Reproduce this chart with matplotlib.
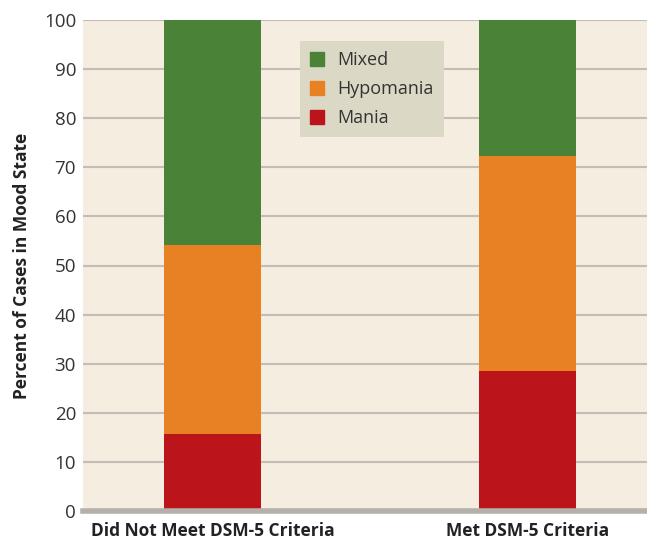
import matplotlib
matplotlib.use("Agg")
import matplotlib.pyplot as plt
from matplotlib.patches import Patch

# Percent of cases in each mood state, by group
groups    = ["Did Not Meet DSM-5 Criteria", "Met DSM-5 Criteria"]
mania     = [15.7, 28.5]
hypomania = [38.4, 43.7]
mixed     = [45.9, 27.8]

C_MANIA = "#bb141b"
C_HYPO  = "#e88024"
C_MIXED = "#4a8237"

plt.rcParams["font.family"] = ["Open Sans", "DejaVu Sans"]

fig = plt.figure(figsize=(6.47, 5.4), dpi=100)
ax = fig.add_axes([83 / 647, 29 / 540, 564 / 647, 491 / 540])
ax.set_facecolor("#f5ede0")

x = [0, 1]
w = 0.308
bottom2 = [m + h for m, h in zip(mania, hypomania)]
ax.bar(x, mania, width=w, color=C_MANIA, zorder=3)
ax.bar(x, hypomania, width=w, bottom=mania, color=C_HYPO, zorder=3)
ax.bar(x, mixed, width=w, bottom=bottom2, color=C_MIXED, zorder=3)

ax.set_xlim(-0.411, 1.379)
ax.set_ylim(0, 100)
ax.set_yticks(range(0, 101, 10))
ax.yaxis.grid(True, color="#c4bdb5", linewidth=1.5, zorder=1)
ax.axhline(0, color="#b5b0aa", linewidth=4, zorder=4, clip_on=False)

for s in ax.spines.values():
    s.set_visible(False)
ax.tick_params(axis="both", length=0, colors="#333333")
ax.tick_params(axis="y", labelsize=13.5, pad=5)
ax.set_xticks(x)
ax.set_xticklabels(groups, fontsize=12.5, fontweight="bold", color="#222222")
ax.tick_params(axis="x", pad=8)
ax.set_ylabel("Percent of Cases in Mood State", fontsize=12.5, fontweight="bold",
              color="#222222", labelpad=9)

handles = [Patch(color=C_MIXED), Patch(color=C_HYPO), Patch(color=C_MANIA)]
leg = ax.legend(handles, ["Mixed", "Hypomania", "Mania"], loc="upper left",
                bbox_to_anchor=(0.385, 0.957), borderaxespad=0, frameon=True,
                fancybox=False, fontsize=13, handlelength=0.78, handleheight=0.78,
                handletextpad=0.75, labelspacing=0.62, borderpad=0.55)
leg.get_frame().set_facecolor("#dcd8c6")
leg.get_frame().set_edgecolor("none")
leg.get_frame().set_alpha(1)
for t in leg.get_texts():
    t.set_color("#333333")

fig.savefig("out.png", dpi=100, facecolor="white")
